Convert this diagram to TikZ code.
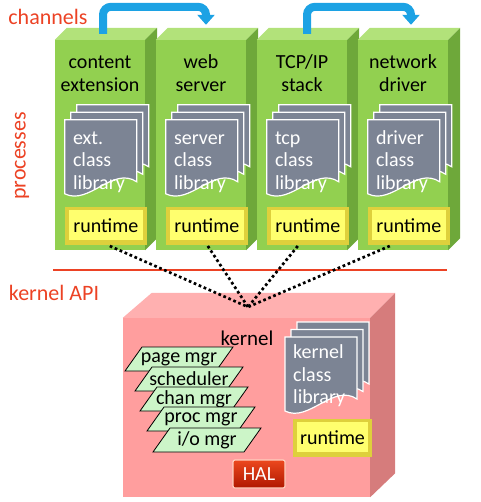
\documentclass[tikz,border=0pt]{standalone}
\usepackage{fontspec}
\setmainfont{Carlito}
\usepackage{tikz}
\usetikzlibrary{calc,positioning,arrows.meta}
\definecolor{procfront}{RGB}{146,208,80}
\definecolor{proctopc}{RGB}{178,226,122}
\definecolor{procsidec}{RGB}{110,168,58}
\definecolor{docgray}{RGB}{124,132,148}
\definecolor{rtedge}{RGB}{222,208,60}
\definecolor{rtface}{RGB}{255,255,110}
\definecolor{chanblue}{RGB}{28,162,228}
\definecolor{apired}{RGB}{236,66,36}
\definecolor{kernfrontc}{RGB}{255,158,158}
\definecolor{kerntopc}{RGB}{255,176,176}
\definecolor{kernsidec}{RGB}{214,124,124}
\definecolor{mgrgreen}{RGB}{204,245,200}
\definecolor{halTop}{RGB}{236,72,30}
\definecolor{halBot}{RGB}{176,24,0}
\definecolor{halEdge}{RGB}{255,206,190}
\tikzset{
  procbox/.style={fill=procfront, minimum width=90pt, minimum height=210pt, inner sep=0pt},
  proctop/.style={fill=proctopc},
  procside/.style={fill=procsidec},
  titletext/.style={anchor=north, align=center, inner sep=0pt, font=\fontsize{20}{23}\selectfont},
  page/.style={fill=docgray, draw=white, line width=1.2pt},
  libtext/.style={anchor=north west, align=left, inner sep=0pt, text=white, font=\fontsize{20}{22.5}\selectfont},
  runtime/.style={fill=rtedge, minimum width=82pt, minimum height=38pt, inner sep=0pt,
    font=\fontsize{20}{24}\selectfont,
    path picture={\fill[rtface] ($(path picture bounding box.south west)+(4pt,5pt)$)
      rectangle ($(path picture bounding box.north east)+(-4pt,-3pt)$);}},
  chan/.style={draw=chanblue, line width=8pt, rounded corners=8pt, -{Triangle[width=17pt,length=10pt]}},
  redlabel/.style={text=apired, inner sep=0pt, font=\fontsize{22}{26}\selectfont},
  apiline/.style={draw=apired, line width=1.5pt},
  kernfront/.style={fill=kernfrontc, minimum width=247pt, minimum height=179pt, inner sep=0pt},
  kerntop/.style={fill=kerntopc},
  kernside/.style={fill=kernsidec},
  mgr/.style={draw, fill=mgrgreen, line width=0.8pt},
  mgrtext/.style={inner sep=0pt, font=\fontsize{20}{23}\selectfont},
  hal/.style={top color=halTop, bottom color=halBot, draw=halEdge, line width=1.2pt, rounded corners=2pt,
    minimum width=52pt, minimum height=28pt, inner sep=0pt, text=white, font=\fontsize{20}{24}\selectfont},
  calls/.style={line width=2.7pt, dash pattern=on 2.7pt off 2.7pt}
}
% one sheet of a class library, #1 = its top left corner
\newcommand{\docpage}[1]{\draw[page] (#1) -- ($(#1)+(72,0)$) -- ($(#1)+(72,62)$)
  .. controls ($(#1)+(48,46)$) and ($(#1)+(24,86)$) .. ($(#1)+(0,74)$) -- cycle;}
\newcommand{\docstack}[3]{%
  \coordinate (#1-b) at ($(#1)+(12,-15)$);
  \coordinate (#1-m) at ($(#1)+(6,-7.5)$);
  \docpage{#1-b}\docpage{#1-m}\docpage{#1}
  \node (#1-t) [libtext] at ($(#1)+(8,#3)$) {\strut #2};
}

\begin{document}
\begin{tikzpicture}[x=1pt,y=-1pt]
	\useasboundingbox (0,0) rectangle (480,502);
	\node (ch) [redlabel] at (48,17) {channels};
	\node (pr) [redlabel,rotate=90] at (22,156) {processes};
	\node (ka) [redlabel] at (54,293) {kernel API};
	\coordinate (apiL) at (53,270);
	\coordinate (apiR) at (447,270);
	\draw[apiline] (apiL) -- (apiR);
	% the four processes
	\foreach \i/\ptitle/\plib in {1/{content\\extension}/{ext.\\class\\library},
			2/{web\\server}/{server\\class\\library},
			3/{TCP/IP\\stack}/{tcp\\class\\library},
			4/{network\\driver}/{driver\\class\\library}}{
		\pgfmathsetmacro{\px}{100+101*(\i-1)}
		\node (P\i) [procbox] at (\px,145) {};
		\fill[proctop] (P\i.north west) -- ($(P\i.north west)+(12,-12)$) -- ($(P\i.north east)+(12,-12)$) -- (P\i.north east) -- cycle;
		\fill[procside] (P\i.north east) -- ($(P\i.north east)+(12,-12)$) -- ($(P\i.south east)+(12,-12)$) -- (P\i.south east) -- cycle;
		\node (T\i) [titletext] at (\px,52) {\strut\ptitle};
		\coordinate (D\i) at ($(P\i.north west)+(10,80)$);
		\docstack{D\i}{\plib}{8.5}
		\node (R\i) [runtime] at ($(P\i.north west)+(51,186)$) {runtime};
	}
	\draw[chan] ($(P1.north)+(3,-6)$) -- ($(P1.north)+(3,-33)$) -- ($(P2.north)+(5,-33)$) -- ($(P2.north)+(5,-15)$);
	\draw[chan] ($(P3.north)+(5,-6)$) -- ($(P3.north)+(5,-33)$) -- ($(P4.north)+(8,-33)$) -- ($(P4.north)+(8,-15)$);
	% kernel
	\node (K) [kernfront] at (246.5,407.5) {};
	\fill[kerntop] (K.north west) -- ($(K.north west)+(29,-25)$) -- ($(K.north east)+(25,-25)$) -- (K.north east) -- cycle;
	\fill[kernside] (K.north east) -- ($(K.north east)+(25,-25)$) -- ($(K.south east)+(25,-24)$) -- (K.south east) -- cycle;
	\node (kt) [font=\fontsize{21}{25}\selectfont] at (247,338) {kernel};
	\foreach \j/\mx/\my/\mt in {1/179/359/{page mgr}, 2/189/379/{scheduler}, 3/194/399/{chan mgr},
			4/201/419/{proc mgr}, 5/207/440/{i/o mgr}}{
		\coordinate (M\j) at (\mx,\my);
		\filldraw[mgr] ($(M\j)+(-54,12)$) -- ($(M\j)+(-37,-12)$) -- ($(M\j)+(54,-12)$) -- ($(M\j)+(37,12)$) -- cycle;
		\node (M\j-t) [mgrtext] at (M\j) {\mt};
	}
	\coordinate (D0) at (285,337);
	\docstack{D0}{kernel\\class\\library}{5.75}
	\node (R0) [runtime,minimum width=79pt] at (332.5,438) {runtime};
	\node (H) [hal] at (259,474) {HAL};
	% calls down to the kernel API
	\coordinate (api) at (248,307);
	\draw[calls] ($(R1.south)+(4,1)$) -- (api);
	\draw[calls] ($(R2.south)+(1,1)$) -- (api);
	\draw[calls] ($(R3.south)+(-10,1)$) -- (api);
	\draw[calls] ($(R4.south)+(-19,1)$) -- (api);
\end{tikzpicture}
\end{document}
